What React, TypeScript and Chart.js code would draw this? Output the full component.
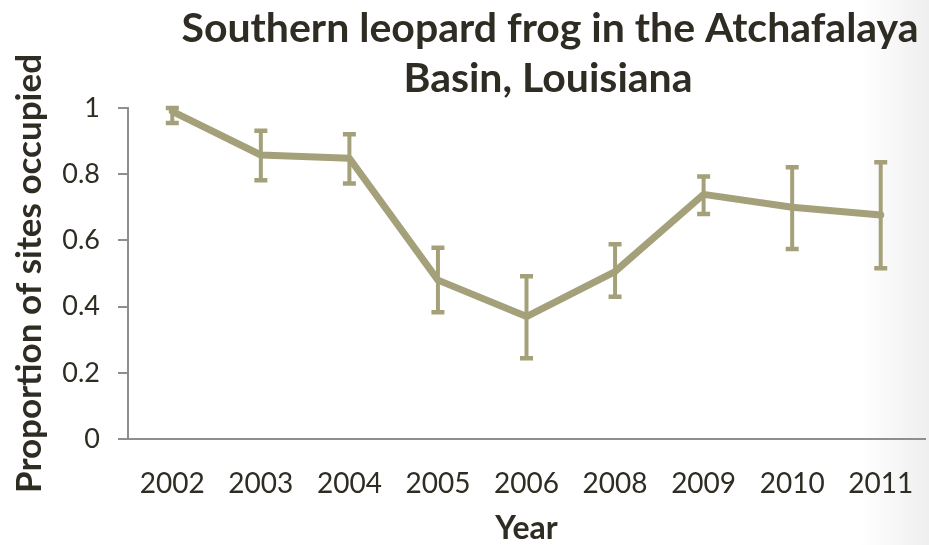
import React, { useEffect, useRef } from "react";
import { Chart, registerables } from "chart.js";

Chart.register(...registerables);

const years = ["2002", "2003", "2004", "2005", "2006", "2008", "2009", "2010", "2011"];
const occupancy = [0.99, 0.858, 0.848, 0.48, 0.37, 0.506, 0.739, 0.7, 0.677];
const upperBound = [1.0, 0.931, 0.921, 0.578, 0.492, 0.588, 0.793, 0.821, 0.836];
const lowerBound = [0.955, 0.782, 0.772, 0.383, 0.244, 0.43, 0.68, 0.574, 0.516];
const yTicks = [0, 0.2, 0.4, 0.6, 0.8, 1];
const titleLines = ["Southern leopard frog in the Atchafalaya", "Basin, Louisiana"];

const LINE_COLOR = "#a4a17a";
const TEXT_COLOR = "#2f2c24";
const AXIS_COLOR = "#8e8e8e";
const FONT = "Lato, 'Open Sans', sans-serif";

// Vertical error bars with flat caps, drawn from the lower/upper bounds.
const errorBars = {
  id: "errorBars",
  afterDatasetsDraw(chart: any) {
    const { ctx, scales } = chart;
    const x = scales.x;
    const y = scales.y;
    ctx.save();
    ctx.strokeStyle = LINE_COLOR;
    ctx.lineCap = "butt";
    years.forEach((_, i) => {
      const px = x.getPixelForValue(i);
      const top = y.getPixelForValue(upperBound[i]);
      const bot = y.getPixelForValue(lowerBound[i]);
      const half = 6.5;
      ctx.lineWidth = 4;
      ctx.beginPath();
      ctx.moveTo(px, top);
      ctx.lineTo(px, bot);
      ctx.stroke();
      ctx.lineWidth = 4.5;
      ctx.beginPath();
      ctx.moveTo(px - half, top);
      ctx.lineTo(px + half, top);
      ctx.moveTo(px - half, bot);
      ctx.lineTo(px + half, bot);
      ctx.stroke();
    });
    ctx.restore();
  },
};

// Two-line bold heading above the plot.
const heading = {
  id: "heading",
  afterDraw(chart: any) {
    const { ctx } = chart;
    ctx.save();
    ctx.fillStyle = TEXT_COLOR;
    ctx.font = `bold 41px ${FONT}`;
    ctx.textAlign = "center";
    ctx.textBaseline = "alphabetic";
    ctx.fillText(titleLines[0], 550, 42);
    ctx.fillText(titleLines[1], 548, 92);
    ctx.restore();
  },
};

export default function App() {
  const canvasRef = useRef<HTMLCanvasElement | null>(null);

  useEffect(() => {
    document.body.style.margin = "0";
    const canvas = canvasRef.current;
    if (!canvas) return;
    const chart = new Chart(canvas, {
      type: "line",
      data: {
        labels: years,
        datasets: [
          {
            data: occupancy,
            borderColor: LINE_COLOR,
            backgroundColor: LINE_COLOR,
            borderWidth: 7,
            borderCapStyle: "round",
            borderJoinStyle: "round",
            pointRadius: 0,
            pointHoverRadius: 0,
            tension: 0,
            clip: false as any,
          },
        ],
      },
      options: {
        animation: false,
        responsive: false,
        events: [],
        layout: { padding: { top: 108, right: 4, bottom: 0, left: 0 } },
        plugins: {
          legend: { display: false },
          tooltip: { enabled: false },
          title: { display: false },
        },
        scales: {
          x: {
            type: "category",
            offset: true,
            grid: { display: false, drawTicks: false },
            border: { display: true, color: AXIS_COLOR, width: 2 },
            ticks: {
              color: TEXT_COLOR,
              font: { family: FONT, size: 28 },
              padding: 28,
              maxRotation: 0,
              autoSkip: false,
            },
            title: {
              display: true,
              text: "Year",
              color: TEXT_COLOR,
              font: { family: FONT, size: 32, weight: "bold", lineHeight: 1.0 },
              padding: { top: 0, bottom: 0 },
            },
            afterFit(scale: any) {
              scale.height = 106;
              scale.paddingLeft = 0;
              scale.paddingRight = 0;
            },
          },
          y: {
            min: 0,
            max: 1,
            afterBuildTicks(scale: any) {
              scale.ticks = yTicks.map((v) => ({ value: v }));
            },
            grid: {
              display: true,
              drawOnChartArea: false,
              drawTicks: true,
              tickLength: 10,
              color: AXIS_COLOR,
              lineWidth: 2,
            },
            border: { display: true, color: AXIS_COLOR, width: 2 },
            ticks: {
              color: TEXT_COLOR,
              font: { family: FONT, size: 27 },
              padding: 18,
              callback: (v: any) => String(Number(v)),
            },
            title: {
              display: true,
              text: "Proportion of sites occupied",
              color: TEXT_COLOR,
              font: { family: FONT, size: 35, weight: "bold" },
              padding: { top: 9, bottom: 0 },
            },
            afterFit(scale: any) {
              scale.width = 128;
            },
          },
        },
      },
      plugins: [errorBars, heading],
    });
    return () => chart.destroy();
  }, []);

  return (
    <div
      style={{
        width: 929,
        height: 545,
        background: "linear-gradient(to right, #ffffff 0px, #ffffff 860px, #efefef 929px)",
      }}
    >
      <canvas ref={canvasRef} width={929} height={545} style={{ display: "block" }} />
    </div>
  );
}
